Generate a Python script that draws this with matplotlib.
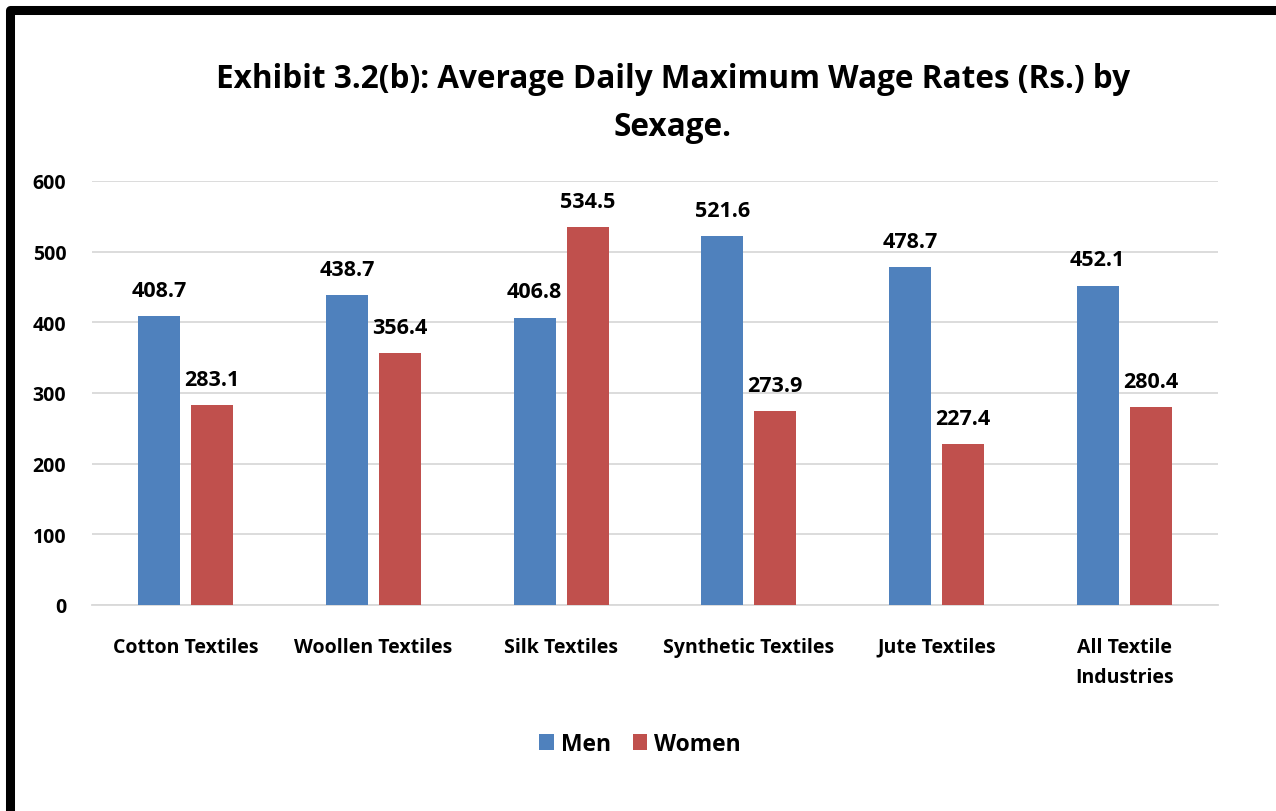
import numpy as np
import matplotlib.pyplot as plt
from matplotlib.patches import Rectangle

categories = ['Cotton Textiles', 'Woollen Textiles', 'Silk Textiles',
              'Synthetic Textiles', 'Jute Textiles', 'All Textile\nIndustries']
men = [408.7, 438.7, 406.8, 521.6, 478.7, 452.1]
women = [283.1, 356.4, 534.5, 273.9, 227.4, 280.4]
yticks = [0, 100, 200, 300, 400, 500, 600]

plt.rcParams['font.family'] = ['Open Sans', 'DejaVu Sans']
plt.rcParams['font.weight'] = 'bold'

W, H = 1276, 812
fig = plt.figure(figsize=(W / 100, H / 100), dpi=100)
ax = fig.add_axes([92 / W, (H - 606) / H, (1218 - 92) / W, (606 - 182) / H])

x = np.arange(len(categories))
bw = 0.224
off = 0.141
b1 = ax.bar(x - off, men, bw, color='#4F81BD', label='Men', zorder=3)
b2 = ax.bar(x + off, women, bw, color='#C0504D', label='Women', zorder=3)

# value labels above each bar
for bars in (b1, b2):
    for r in bars:
        ax.annotate(f'{r.get_height():.1f}', (r.get_x() + r.get_width() / 2, r.get_height()),
                    xytext=(0, 14.5), textcoords='offset points', ha='center', va='baseline',
                    fontsize=15.5, fontweight='bold')

ax.set_xlim(-0.5, len(categories) - 0.5)
ax.set_ylim(0, 600)
ax.set_yticks(yticks)
ax.set_yticklabels([str(v) for v in yticks], fontsize=14, fontweight='bold')
ax.set_xticks(x)
ax.set_xticklabels(categories, fontsize=14, fontweight='bold', linespacing=1.68)
ax.tick_params(axis='both', length=0)
ax.tick_params(axis='y', pad=18.5)
ax.tick_params(axis='x', pad=23)
ax.grid(axis='y', color='#D9D9D9', linewidth=1.3, zorder=0)
for s in ['top', 'right', 'left']:
    ax.spines[s].set_visible(False)
ax.spines['bottom'].set_color('#D9D9D9')
ax.spines['bottom'].set_linewidth(1.3)

fig.text(673 / W, 1 - 79 / H, 'Exhibit 3.2(b): Average Daily Maximum Wage Rates (Rs.) by',
         ha='center', va='center', fontsize=22.7, fontweight='bold')
fig.text(673 / W, 1 - 128 / H, 'Sexage.', ha='center', va='center', fontsize=22.7, fontweight='bold')

fig.legend(handles=[b1, b2], loc='center', bbox_to_anchor=(640 / W, 1 - 745 / H), ncol=2,
           frameon=False, prop={'size': 16.5, 'weight': 'bold'}, handlelength=0.65,
           handleheight=0.65, handletextpad=0.3, columnspacing=0.95)

# thick black frame around the whole chart
border = Rectangle((10 / W, -0.05), (1279 - 10) / W, (H - 11) / H + 0.05,
                   transform=fig.transFigure, fill=False, edgecolor='black',
                   linewidth=6.5, joinstyle='round', clip_on=False)
fig.patches.append(border)

fig.savefig('out.png', dpi=100)
